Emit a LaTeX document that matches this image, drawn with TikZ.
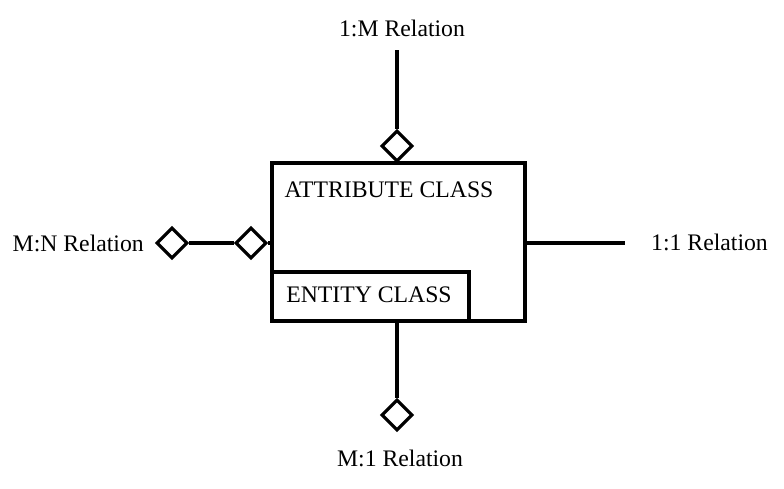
\documentclass[tikz,border=0pt]{standalone}
\usepackage{fontspec}
\setmainfont{Liberation Serif}
\usetikzlibrary{shapes.geometric}
\tikzset{
  relbox/.style={draw, line width=2.4pt},
  reldiamond/.style={draw, diamond, line width=1.8pt, fill=white, inner sep=0pt, minimum width=0.62cm, minimum height=0.62cm},
  relline/.style={line width=2.4pt},
  rellabel/.style={font=\fontsize{13.5}{15}\selectfont}
}
\begin{document}
\begin{tikzpicture}[x=0.02cm, y=-0.02cm]
		\useasboundingbox (0,0) rectangle (784,488);
		% class boxes
		\draw[relbox] (272,163) rectangle (525,321);
		\draw[relbox] (272,272) rectangle (469,321);
		\node[rellabel] (attr) at (389,190) {ATTRIBUTE CLASS};
		\node[rellabel] (ent) at (369,295) {ENTITY CLASS};
		\coordinate (topA) at (397,163);
		\coordinate (leftA) at (272,243);
		\coordinate (rightA) at (525,243);
		\coordinate (botA) at (397,321);
		
		% 1:M relation
		\node[rellabel] (oneM) at (402,28) {1:M Relation};
		\node[reldiamond] (dTop) at (397,146) {};
		\draw[relline] (397,50) -- (dTop.north);
		\draw[relline] (dTop.south) -- (topA);
		
		% M:N relation
		\node[rellabel, anchor=east] (mN) at (150,243) {M:N Relation};
		\node[reldiamond] (dLeftA) at (172,243) {};
		\node[reldiamond] (dLeftB) at (251,243) {};
		\draw[relline] (dLeftA.east) -- (dLeftB.west);
		\draw[relline] (dLeftB.east) -- (leftA);
		
		% 1:1 relation
		\node[rellabel, anchor=west] (oneOne) at (645,242) {1:1 Relation};
		\draw[relline] (rightA) -- (625,243);
		
		% M:1 relation
		\node[rellabel] (mOne) at (400,458) {M:1 Relation};
		\node[reldiamond] (dBot) at (397,415) {};
		\draw[relline] (botA) -- (dBot.north);
\end{tikzpicture}
\end{document}
